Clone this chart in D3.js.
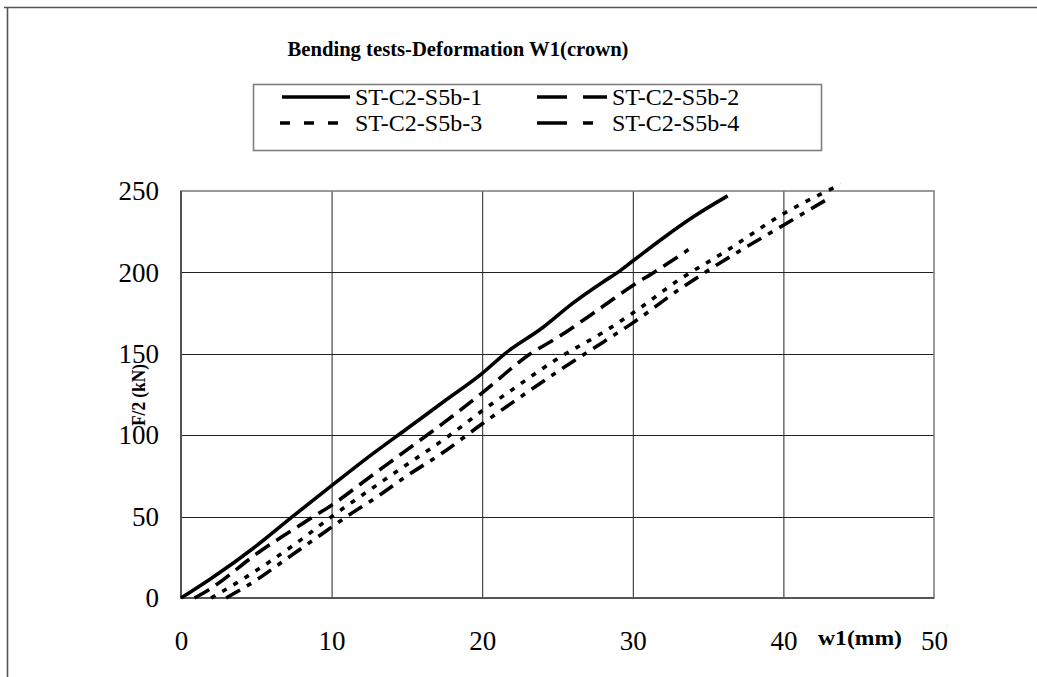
<!DOCTYPE html>
<html>
<head>
<meta charset="utf-8">
<script src="https://cdn.jsdelivr.net/npm/d3@7/dist/d3.min.js"></script>
<style>
  html, body { margin: 0; padding: 0; background: #fff; }
  svg { display: block; }
  text { font-family: "Liberation Serif", "Times New Roman", serif; fill: #000; }
</style>
</head>
<body>
<svg id="chart" width="1037" height="677"></svg>
<script>
// Bending tests: load F/2 against crown deformation w1
const title = "Bending tests-Deformation W1(crown)";
const xLabel = "w1(mm)";
const yLabel = "F/2 (kN)";
const xTicks = [0, 10, 20, 30, 40, 50];
const yTicks = [0, 50, 100, 150, 200, 250];
const seriesNames = ["ST-C2-S5b-1", "ST-C2-S5b-2", "ST-C2-S5b-3", "ST-C2-S5b-4"];

// [w1 (mm), F/2 (kN)]
const s1 = [[0,0],[2,12],[5,32],[7.4,50],[10,69],[12.5,87],[15,104],[17.5,121],[20,138],[21.5,150],[24,166],[26,181],[28,194],[29,200],[30,207],[32,221],[34,234],[36.3,247]];
const s2 = [[0.9,0],[2,6],[5,27],[8.8,50],[10,57],[12.5,74],[15,91],[17.5,108],[20,126],[23.2,150],[25,160],[28,179],[30,192],[31.4,200],[33.7,214]];
const s3 = [[2,0],[4,11],[6,23],[8,36],[10,50],[12,63],[15,82],[18,101],[20,115],[22,128],[25,147],[28,163],[30,175],[33,195],[36,212],[40,236],[43.8,254]];
const s4 = [[3,0],[5,11],[7,24],[9,37],[11,50],[13,62],[15,75],[17.5,90],[20,107],[22,120],[25,139],[28,157],[30,169],[33,189],[36,207],[40,229],[43.1,246]];
const seriesData = [s1, s2, s3, s4];

// line styles: plot dashes and the wider legend sample dashes
const plotDash = [null, "17,8", "5,8", "16,8,5,8"];
const legendDash = [null, "30,16", "10,14", "30,16,10,16"];

const svg = d3.select("#chart");

// outer frame (top and left edges)
svg.append("path")
  .attr("d", "M4,7.5 H1037 M7.5,7 V677")
  .attr("fill", "none").attr("stroke", "#555").attr("stroke-width", 1.6);

const plot = { left: 181, right: 934, top: 191, bottom: 598 };
const x = d3.scaleLinear().domain([0, 50]).range([plot.left, plot.right]);
const y = d3.scaleLinear().domain([0, 250]).range([plot.bottom, plot.top]);

// grid
const grid = svg.append("g");
grid.selectAll("line.v").data(xTicks.slice(1, -1)).join("line")
  .attr("x1", d => x(d) + 0.5).attr("x2", d => x(d) + 0.5)
  .attr("y1", plot.top).attr("y2", plot.bottom)
  .attr("stroke", "#222").attr("stroke-width", 1);
grid.selectAll("line.h").data(yTicks.slice(1, -1)).join("line")
  .attr("x1", plot.left).attr("x2", plot.right)
  .attr("y1", d => Math.round(y(d)) + 0.5).attr("y2", d => Math.round(y(d)) + 0.5)
  .attr("stroke", "#222").attr("stroke-width", 1);

// plot-area border
svg.append("rect")
  .attr("x", plot.left).attr("y", plot.top)
  .attr("width", plot.right - plot.left).attr("height", plot.bottom - plot.top)
  .attr("fill", "none").attr("stroke", "#808080").attr("stroke-width", 1.6);
// darker left and bottom axis lines
svg.append("path")
  .attr("d", `M${plot.left},${plot.top} V${plot.bottom} H${plot.right}`)
  .attr("fill", "none").attr("stroke", "#404040").attr("stroke-width", 1.6);

// axes (labels only)
const xAxis = d3.axisBottom(x).tickValues(xTicks).tickSize(0).tickPadding(33);
const gx = svg.append("g").attr("transform", `translate(0,${plot.bottom})`).call(xAxis);
gx.select(".domain").remove();
gx.selectAll("text").style("font-family", "Liberation Serif").style("font-size", "27px").attr("fill", "#000");

const yAxis = d3.axisLeft(y).tickValues(yTicks).tickSize(0).tickPadding(22);
const gy = svg.append("g").attr("transform", `translate(${plot.left},0)`).call(yAxis);
gy.select(".domain").remove();
gy.selectAll("text").style("font-family", "Liberation Serif").style("font-size", "27px").attr("fill", "#000");

// series lines
const line = d3.line().x(d => x(d[0])).y(d => y(d[1])).curve(d3.curveMonotoneX);
svg.append("g").selectAll("path").data(seriesData).join("path")
  .attr("d", line)
  .attr("fill", "none").attr("stroke", "#000").attr("stroke-width", 3.6)
  .attr("stroke-dasharray", (d, i) => plotDash[i])
  .attr("stroke-linejoin", "round");

// title
svg.append("text").attr("x", 458).attr("y", 56).attr("text-anchor", "middle")
  .attr("textLength", 341).attr("lengthAdjust", "spacingAndGlyphs")
  .style("font-weight", "bold").style("font-size", "22px").text(title);

// axis titles
svg.append("text").attr("transform", "translate(145,395) rotate(-90)").attr("text-anchor", "middle")
  .attr("textLength", 62).attr("lengthAdjust", "spacingAndGlyphs")
  .style("font-weight", "bold").style("font-size", "19px").text(yLabel);
svg.append("text").attr("x", 860).attr("y", 645).attr("text-anchor", "middle")
  .attr("textLength", 84).attr("lengthAdjust", "spacingAndGlyphs")
  .style("font-weight", "bold").style("font-size", "20px").text(xLabel);

// legend
const lg = svg.append("g");
lg.append("rect").attr("x", 253.5).attr("y", 84.5).attr("width", 568).attr("height", 66)
  .attr("fill", "#fff").attr("stroke", "#808080").attr("stroke-width", 1.6);
const legendPos = [[282, 97], [537, 97], [280, 123], [537, 123]];
seriesNames.forEach((name, i) => {
  const [lx, ly] = legendPos[i];
  lg.append("line").attr("x1", lx).attr("x2", i % 2 ? 607 : 350).attr("y1", ly).attr("y2", ly)
    .attr("stroke", "#000").attr("stroke-width", 3.6)
    .attr("stroke-dasharray", legendDash[i]);
  lg.append("text").attr("x", i % 2 ? 612 : 355).attr("y", ly + 8)
    .style("font-size", "24px").text(name);
});
</script>
</body>
</html>
